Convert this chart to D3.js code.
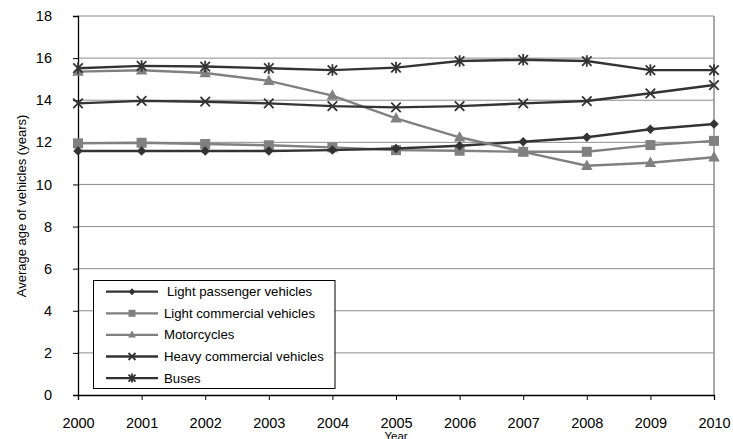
<!DOCTYPE html>
<html><head><meta charset="utf-8">
<script src="https://cdn.jsdelivr.net/npm/d3@7"></script>
<style>body{margin:0;background:#fff;} svg{display:block;font-family:"Liberation Sans",Arial,sans-serif;}</style>
</head><body>
<svg id="c" width="733" height="439"></svg>
<script>
const years = [2000,2001,2002,2003,2004,2005,2006,2007,2008,2009,2010];
const yTicks = [0,2,4,6,8,10,12,14,16,18];
const seriesNames = ["Light passenger vehicles","Light commercial vehicles","Motorcycles","Heavy commercial vehicles","Buses"];
const lightPassenger = [11.59,11.59,11.59,11.59,11.63,11.71,11.84,12.03,12.24,12.62,12.87];
const lightCommercial = [11.95,11.98,11.92,11.86,11.76,11.63,11.60,11.55,11.55,11.87,12.07];
const motorcycles = [15.36,15.42,15.29,14.92,14.22,13.14,12.24,11.55,10.89,11.03,11.29];
const heavyCommercial = [13.85,13.97,13.93,13.85,13.72,13.66,13.72,13.85,13.96,14.33,14.72];
const buses = [15.52,15.63,15.60,15.52,15.43,15.55,15.86,15.92,15.86,15.43,15.43];

const seriesValues = [lightPassenger, lightCommercial, motorcycles, heavyCommercial, buses];
const colors = ["#333333","#808080","#808080","#333333","#333333"];
const markers = ["diamond","square","triangle","x","asterisk"];

const svg = d3.select("#c");
const L=78, R=714, T=16, B=395;
const x = d3.scaleLinear().domain([2000,2010]).range([L,R]);
const y = d3.scaleLinear().domain([0,18]).range([B,T]);

// gridlines
svg.append("g").selectAll("line").data(yTicks.filter(d=>d>0)).join("line")
  .attr("x1",L).attr("x2",R).attr("y1",d=>y(d)).attr("y2",d=>y(d))
  .attr("stroke","#8c8c8c").attr("stroke-width",1);
// right border
svg.append("line").attr("x1",R).attr("x2",R).attr("y1",T).attr("y2",B).attr("stroke","#8c8c8c").attr("stroke-width",1.5);

// axes
const yAxis = svg.append("g").attr("transform",`translate(${L},0)`)
  .call(d3.axisLeft(y).tickValues(yTicks).tickSize(5).tickPadding(21).tickFormat(d3.format("d")));
yAxis.select(".domain").attr("stroke","#000").attr("stroke-width",1.3);
yAxis.selectAll("text").attr("font-size",14.5).attr("fill","#000").attr("font-family","Liberation Sans, Arial, sans-serif");

const xAxis = svg.append("g").attr("transform",`translate(0,${B})`)
  .call(d3.axisBottom(x).tickValues(years).tickSize(5).tickPadding(18).tickFormat(d3.format("d")));
xAxis.select(".domain").attr("stroke","#000").attr("stroke-width",1.3);
xAxis.selectAll("text").attr("font-size",14.5).attr("fill","#000").attr("font-family","Liberation Sans, Arial, sans-serif");

svg.append("text").attr("x",x(2005)).attr("y",440).attr("text-anchor","middle")
  .attr("font-size",11.5).text("Year");
svg.append("text").attr("transform","translate(26,206) rotate(-90)").attr("text-anchor","middle")
  .attr("font-size",13).text("Average age of vehicles (years)");

function drawMarker(g, type, color, s){
  const h = s/2;
  if(type==="diamond"){
    g.append("path").attr("d",`M0,${-h}L${h},0L0,${h}L${-h},0Z`).attr("fill",color);
  } else if(type==="square"){
    g.append("rect").attr("x",-h).attr("y",-h).attr("width",s).attr("height",s).attr("fill",color);
  } else if(type==="triangle"){
    g.append("path").attr("d",`M0,${-h-1}L${h+0.5},${h-1}L${-h-0.5},${h-1}Z`).attr("fill",color);
  } else if(type==="x"){
    g.append("path").attr("d",`M${-h},${-h}L${h},${h}M${h},${-h}L${-h},${h}`).attr("stroke",color).attr("stroke-width",1.8);
  } else if(type==="asterisk"){
    g.append("path").attr("d",`M${-h},${-h}L${h},${h}M${h},${-h}L${-h},${h}M0,${-h-1}L0,${h+1}`).attr("stroke",color).attr("stroke-width",1.8);
  }
}

const line = d3.line().x((d,i)=>x(years[i])).y(d=>y(d));
const drawOrder = [1,0,2,3,4];
drawOrder.forEach(si=>{
  const vals = seriesValues[si];
  svg.append("path").datum(vals).attr("d",line).attr("fill","none")
    .attr("stroke",colors[si]).attr("stroke-width",2.4);
  vals.forEach((v,i)=>{
    const g = svg.append("g").attr("transform",`translate(${x(years[i])},${y(v)})`);
    drawMarker(g, markers[si], colors[si], si===1?10:(si===2?10.5:9.5));
  });
});

// legend
const lg = svg.append("g");
lg.append("rect").attr("x",93.5).attr("y",280.5).attr("width",241.5).attr("height",108)
  .attr("fill","#fff").attr("stroke","#000").attr("stroke-width",1);
seriesNames.forEach((n,i)=>{
  const yy = 291.7 + i*21.6;
  lg.append("line").attr("x1",106).attr("x2",158).attr("y1",yy).attr("y2",yy)
    .attr("stroke",colors[i]).attr("stroke-width",2.3);
  const g = lg.append("g").attr("transform",`translate(132,${yy})`);
  drawMarker(g, markers[i], colors[i], 7);
  lg.append("text").attr("x", i===0?167:164).attr("y",yy+4.5).attr("font-size",13.2).attr("fill","#000").text(n);
});
</script>
</body></html>
